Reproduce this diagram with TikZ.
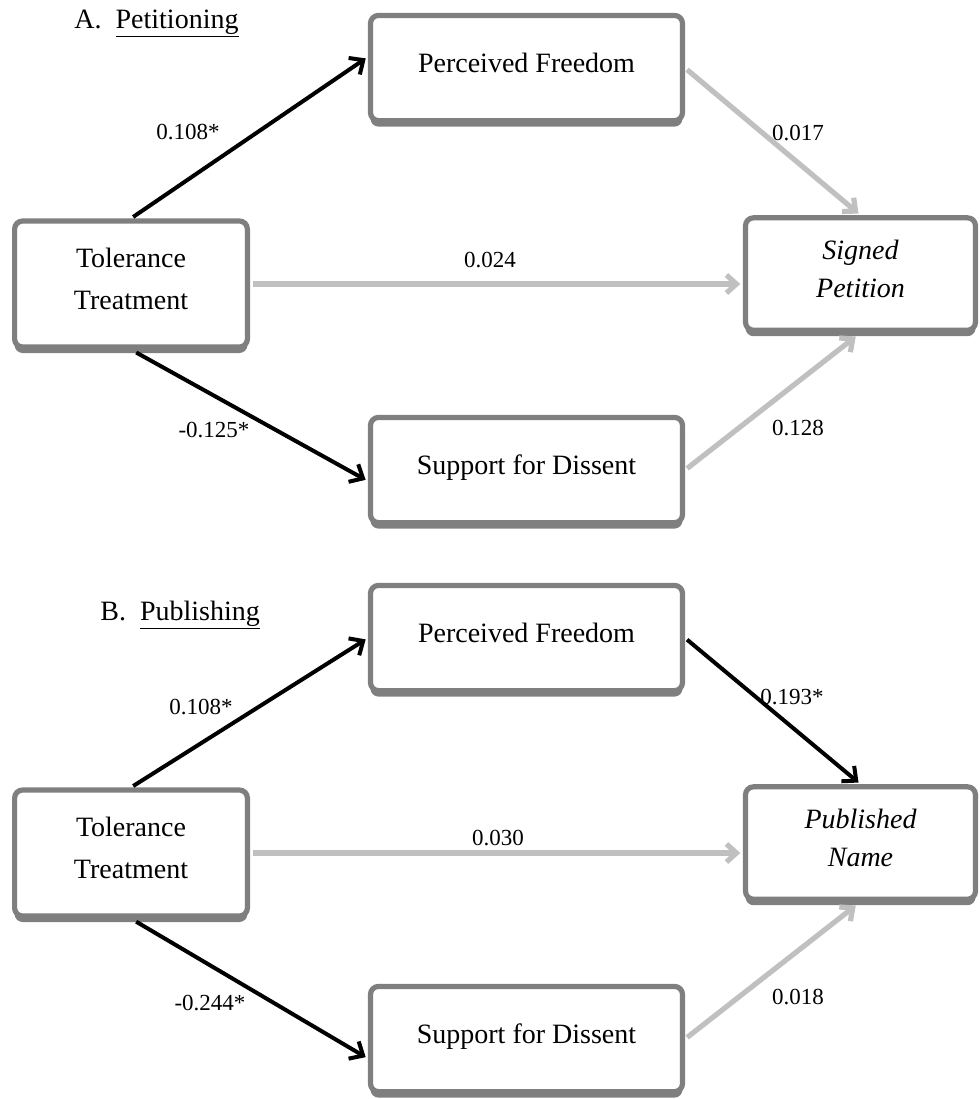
\documentclass[tikz,border=0pt]{standalone}
\usepackage{fontspec}
\setmainfont{Liberation Serif}
\usetikzlibrary{arrows.meta,shadows}
\definecolor{boxgray}{RGB}{127,127,127}
\definecolor{paleline}{RGB}{192,192,192}

\begin{document}
\begin{tikzpicture}[
		x=0.5pt, y=-0.5pt,
		varbox/.style={draw=boxgray, line width=2.6pt, rounded corners=4pt, fill=white, align=center,
			font=\fontsize{14}{21}\selectfont, text depth=5pt,
			drop shadow={shadow xshift=0pt, shadow yshift=-3pt, fill=boxgray, opacity=1}},
		srcbox/.style={varbox, minimum width=116.4pt, minimum height=63pt},
		midbox/.style={varbox, minimum width=156pt, minimum height=52.6pt},
		outbox/.style={varbox, minimum width=115pt, minimum height=56.2pt, font=\fontsize{14}{19}\selectfont\itshape},
		coef/.style={font=\fontsize{11.5}{13}\selectfont, inner sep=0pt},
		panel/.style={font=\fontsize{14}{17}\selectfont, inner sep=0pt, anchor=base west},
		sig/.style={draw=black, line width=2pt, -{Straight Barb[length=5.5pt,width=10pt]}, shorten <=1.3pt, shorten >=1.3pt},
		nonsig/.style={draw=paleline, line width=2.6pt, -{Straight Barb[length=5pt,width=9pt]}, shorten <=1.3pt, shorten >=1.3pt},
	]
	\useasboundingbox (0,0) rectangle (980,1099);

	\node[panel] (headA) at (74,28) {A.\ \ \underline{Petitioning}};
	\node[midbox] (pfA) at (526.5,68) {Perceived Freedom};
	\node[srcbox] (ttA) at (131,284) {Tolerance\\Treatment};
	\node[outbox] (sgA) at (860.5,274) {Signed\\Petition};
	\node[midbox] (sdA) at (526.5,470) {Support for Dissent};

	\draw[sig] (ttA.north) -- (pfA.176);
	\draw[nonsig] (pfA.east) -- (sgA.north);
	\draw[nonsig] (ttA.east) -- (ttA.east -| sgA.west);
	\draw[sig, shorten <=3pt] (ttA.south) -- (sdA.184);
	\draw[nonsig, shorten >=3pt] (sdA.east) -- (sgA.south);

	\node[coef] (cA1) at (188,132) {0.108*};
	\node[coef] (cA2) at (798,133) {0.017};
	\node[coef] (cA3) at (490,260) {0.024};
	\node[coef] (cA4) at (214,430) {-0.125*};
	\node[coef] (cA5) at (798,428) {0.128};

	\node[panel] (headB) at (100,620) {B.\ \ \underline{Publishing}};
	\node[midbox] (pfB) at (526.5,638) {Perceived Freedom};
	\node[srcbox] (ttB) at (131,853) {Tolerance\\Treatment};
	\node[outbox] (pnB) at (860.5,843) {Published\\Name};
	\node[midbox] (sdB) at (526.5,1039) {Support for Dissent};

	\draw[sig] (ttB.north) -- (pfB.west);
	\draw[sig] (pfB.east) -- (pnB.north);
	\draw[nonsig] (ttB.east) -- (ttB.east -| pnB.west);
	\draw[sig, shorten <=3pt] (ttB.south) -- (sdB.187);
	\draw[nonsig, shorten >=3pt] (sdB.east) -- (pnB.south);

	\node[coef] (cB1) at (201,707) {0.108*};
	\node[coef] (cB2) at (792,697) {0.193*};
	\node[coef] (cB3) at (498,838) {0.030};
	\node[coef] (cB4) at (210,1003) {-0.244*};
	\node[coef] (cB5) at (798,997) {0.018};
\end{tikzpicture}
\end{document}
